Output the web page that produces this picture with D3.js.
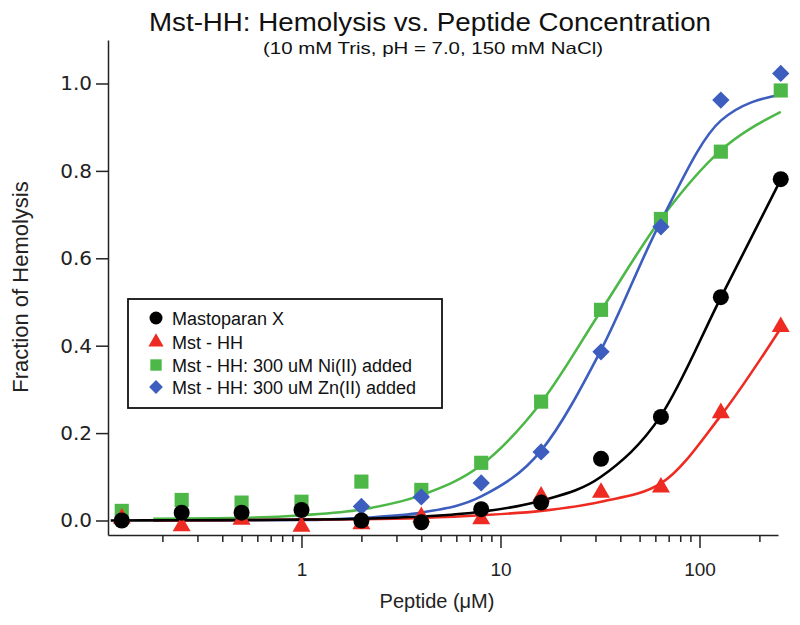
<!DOCTYPE html>
<html><head><meta charset="utf-8">
<script src="https://cdn.jsdelivr.net/npm/d3@7"></script>
<style>body{margin:0;background:#fff}</style>
</head><body>
<svg id="chart" width="800" height="625"></svg>
<script>
// ---- data ----
const conc = [0.125, 0.25, 0.5, 1, 2, 4, 8, 16, 32, 64, 128, 256];
const mastoparanX = [0.0, 0.018, 0.018, 0.024, 0.0, -0.004, 0.026, 0.041, 0.141, 0.237, 0.511, 0.781];
const mstHH = [0.005, -0.013, 0.002, -0.014, -0.008, 0.008, 0.003, 0.055, 0.064, 0.076, 0.246, 0.443];
const mstHHNi = [0.022, 0.047, 0.041, 0.043, 0.089, 0.07, 0.132, 0.272, 0.482, 0.69, 0.844, 0.984];
const mstHHZn = [null, null, null, null, 0.032, 0.054, 0.086, 0.157, 0.386, 0.672, 0.962, 1.023];

// fitted curves
const fitXBlack = [0.11, 0.25, 0.5, 1, 2, 4, 8, 16, 32, 64, 128, 256];
const fitBlack  = [0.0, 0.0005, 0.001, 0.002, 0.004, 0.009, 0.02, 0.045, 0.1, 0.24, 0.51, 0.78];
const fitX = [0.18, 0.5, 1, 2, 4, 8, 16, 32, 64, 128, 256];
const fitRed   = [0.0, 0.001, 0.002, 0.003, 0.006, 0.012, 0.022, 0.043, 0.085, 0.24, 0.44];
const fitGreen = [0.004, 0.006, 0.012, 0.025, 0.058, 0.127, 0.27, 0.48, 0.69, 0.847, 0.935];
const fitBlue  = [0.0, 0.0005, 0.001, 0.006, 0.018, 0.055, 0.16, 0.39, 0.685, 0.915, 0.975];

const yTicks = [0, 0.2, 0.4, 0.6, 0.8, 1.0];
const xMajor = [1, 10, 100];
const xMinor = [0.2,0.3,0.4,0.5,0.6,0.7,0.8,0.9,2,3,4,5,6,7,8,9,20,30,40,50,60,70,80,90,200];
const legendLabels = ["Mastoparan X", "Mst - HH", "Mst - HH: 300 uM Ni(II) added", "Mst - HH: 300 uM Zn(II) added"];
const colors = {black:"#000000", red:"#ee2b22", green:"#4db848", blue:"#3d5ebf"};

// ---- layout ----
const svg = d3.select("#chart");
const x = d3.scaleLog().domain([0.1066, 248]).range([108, 778]);
const y = d3.scaleLinear().domain([-0.0332, 1.0995]).range([535, 40]);

// title
svg.append("text").attr("x", 430).attr("y", 31).attr("text-anchor", "middle")
  .attr("font-family", "Liberation Sans, Arial, sans-serif").attr("font-size", 25)
  .attr("textLength", 562).attr("lengthAdjust", "spacingAndGlyphs").attr("fill", "#111")
  .text("Mst-HH: Hemolysis vs. Peptide Concentration");
svg.append("text").attr("x", 433).attr("y", 54).attr("text-anchor", "middle")
  .attr("font-family", "Liberation Sans, Arial, sans-serif").attr("font-size", 16.5)
  .attr("textLength", 340).attr("lengthAdjust", "spacingAndGlyphs").attr("fill", "#111")
  .text("(10 mM Tris, pH = 7.0, 150 mM NaCl)");

// axes
const yAxis = d3.axisLeft(y).tickValues(yTicks).tickFormat(d3.format(".1f")).tickSize(12).tickSizeOuter(0).tickPadding(4);
const gy = svg.append("g").attr("transform", "translate(108,0)").call(yAxis);
gy.selectAll("text").attr("font-family", "DejaVu Sans, sans-serif").attr("font-size", 20).attr("fill", "#222");
gy.selectAll("line,path").attr("stroke", "#222").attr("stroke-width", 1.5);

const xAxis = d3.axisBottom(x).tickValues(xMajor).tickFormat(d3.format("d")).tickSize(13).tickSizeOuter(0).tickPadding(15);
const gx = svg.append("g").attr("transform", "translate(0,535)").call(xAxis);
gx.selectAll("text").attr("font-family", "Liberation Sans, Arial, sans-serif").attr("font-size", 19).attr("fill", "#222");
gx.selectAll("line,path").attr("stroke", "#222").attr("stroke-width", 1.5);
const xAxisMinor = d3.axisBottom(x).tickValues(xMinor).tickFormat("").tickSize(7).tickSizeOuter(0);
const gxm = svg.append("g").attr("transform", "translate(0,535)").call(xAxisMinor);
gxm.select("path").remove();
gxm.selectAll("line").attr("stroke", "#222").attr("stroke-width", 1.5);

// axis titles
svg.append("text").attr("transform", "translate(28,287) rotate(-90)").attr("text-anchor", "middle")
  .attr("font-family", "Liberation Sans, Arial, sans-serif").attr("font-size", 22).attr("fill", "#222")
  .text("Fraction of Hemolysis");
svg.append("text").attr("x", 437).attr("y", 608).attr("text-anchor", "middle")
  .attr("font-family", "Liberation Sans, Arial, sans-serif").attr("font-size", 20).attr("fill", "#222")
  .text("Peptide (\u03bcM)");

// legend box
const legend = svg.append("g");
legend.append("rect").attr("x", 128).attr("y", 299).attr("width", 314).attr("height", 109)
  .attr("fill", "#fff").attr("stroke", "#111").attr("stroke-width", 1.8);

// fitted curves
const line = d3.line().x(d => x(d[0])).y(d => y(d[1])).curve(d3.curveMonotoneX);
function curve(xs, ys, col) {
  svg.append("path").datum(xs.map((v, i) => [v, ys[i]])).attr("d", line)
    .attr("fill", "none").attr("stroke", col).attr("stroke-width", 2.6);
}
curve(fitX, fitGreen, colors.green);
curve(fitX, fitBlue, colors.blue);
curve(fitX, fitRed, colors.red);
curve(fitXBlack, fitBlack, colors.black);

// markers
const sym = {
  circle: d3.symbol().type(d3.symbolCircle).size(Math.PI * 8 * 8),
  triangle: d3.symbol().type(d3.symbolTriangle).size(140),
  square: d3.symbol().type(d3.symbolSquare).size(200),
  diamond: d3.symbol().type(d3.symbolSquare).size(150)
};
function points(vals, shape, col, rot) {
  svg.append("g").selectAll("path").data(conc.map((c, i) => [c, vals[i]]).filter(d => d[1] !== null))
    .join("path").attr("d", sym[shape])
    .attr("transform", d => `translate(${x(d[0])},${y(d[1])})` + (rot ? " rotate(45)" : ""))
    .attr("fill", col);
}
points(mstHHNi, "square", colors.green);
points(mstHHZn, "diamond", colors.blue, true);
points(mstHH, "triangle", colors.red);
points(mastoparanX, "circle", colors.black);

// legend entries
const legY = [318, 342, 365, 387];
const legShapes = [["circle", colors.black, false], ["triangle", colors.red, false], ["square", colors.green, false], ["diamond", colors.blue, true]];
const legSym = {
  circle: d3.symbol().type(d3.symbolCircle).size(Math.PI * 6.5 * 6.5),
  triangle: d3.symbol().type(d3.symbolTriangle).size(100),
  square: d3.symbol().type(d3.symbolSquare).size(130),
  diamond: d3.symbol().type(d3.symbolSquare).size(95)
};
legendLabels.forEach((lab, i) => {
  const [shape, col, rot] = legShapes[i];
  legend.append("path").attr("d", legSym[shape])
    .attr("transform", `translate(156,${legY[i]})` + (rot ? " rotate(45)" : "")).attr("fill", col);
  legend.append("text").attr("x", 172).attr("y", legY[i] + 6.5)
    .attr("font-family", "Liberation Sans, Arial, sans-serif").attr("font-size", 18).attr("fill", "#111")
    .text(lab);
});
</script>
</body></html>
